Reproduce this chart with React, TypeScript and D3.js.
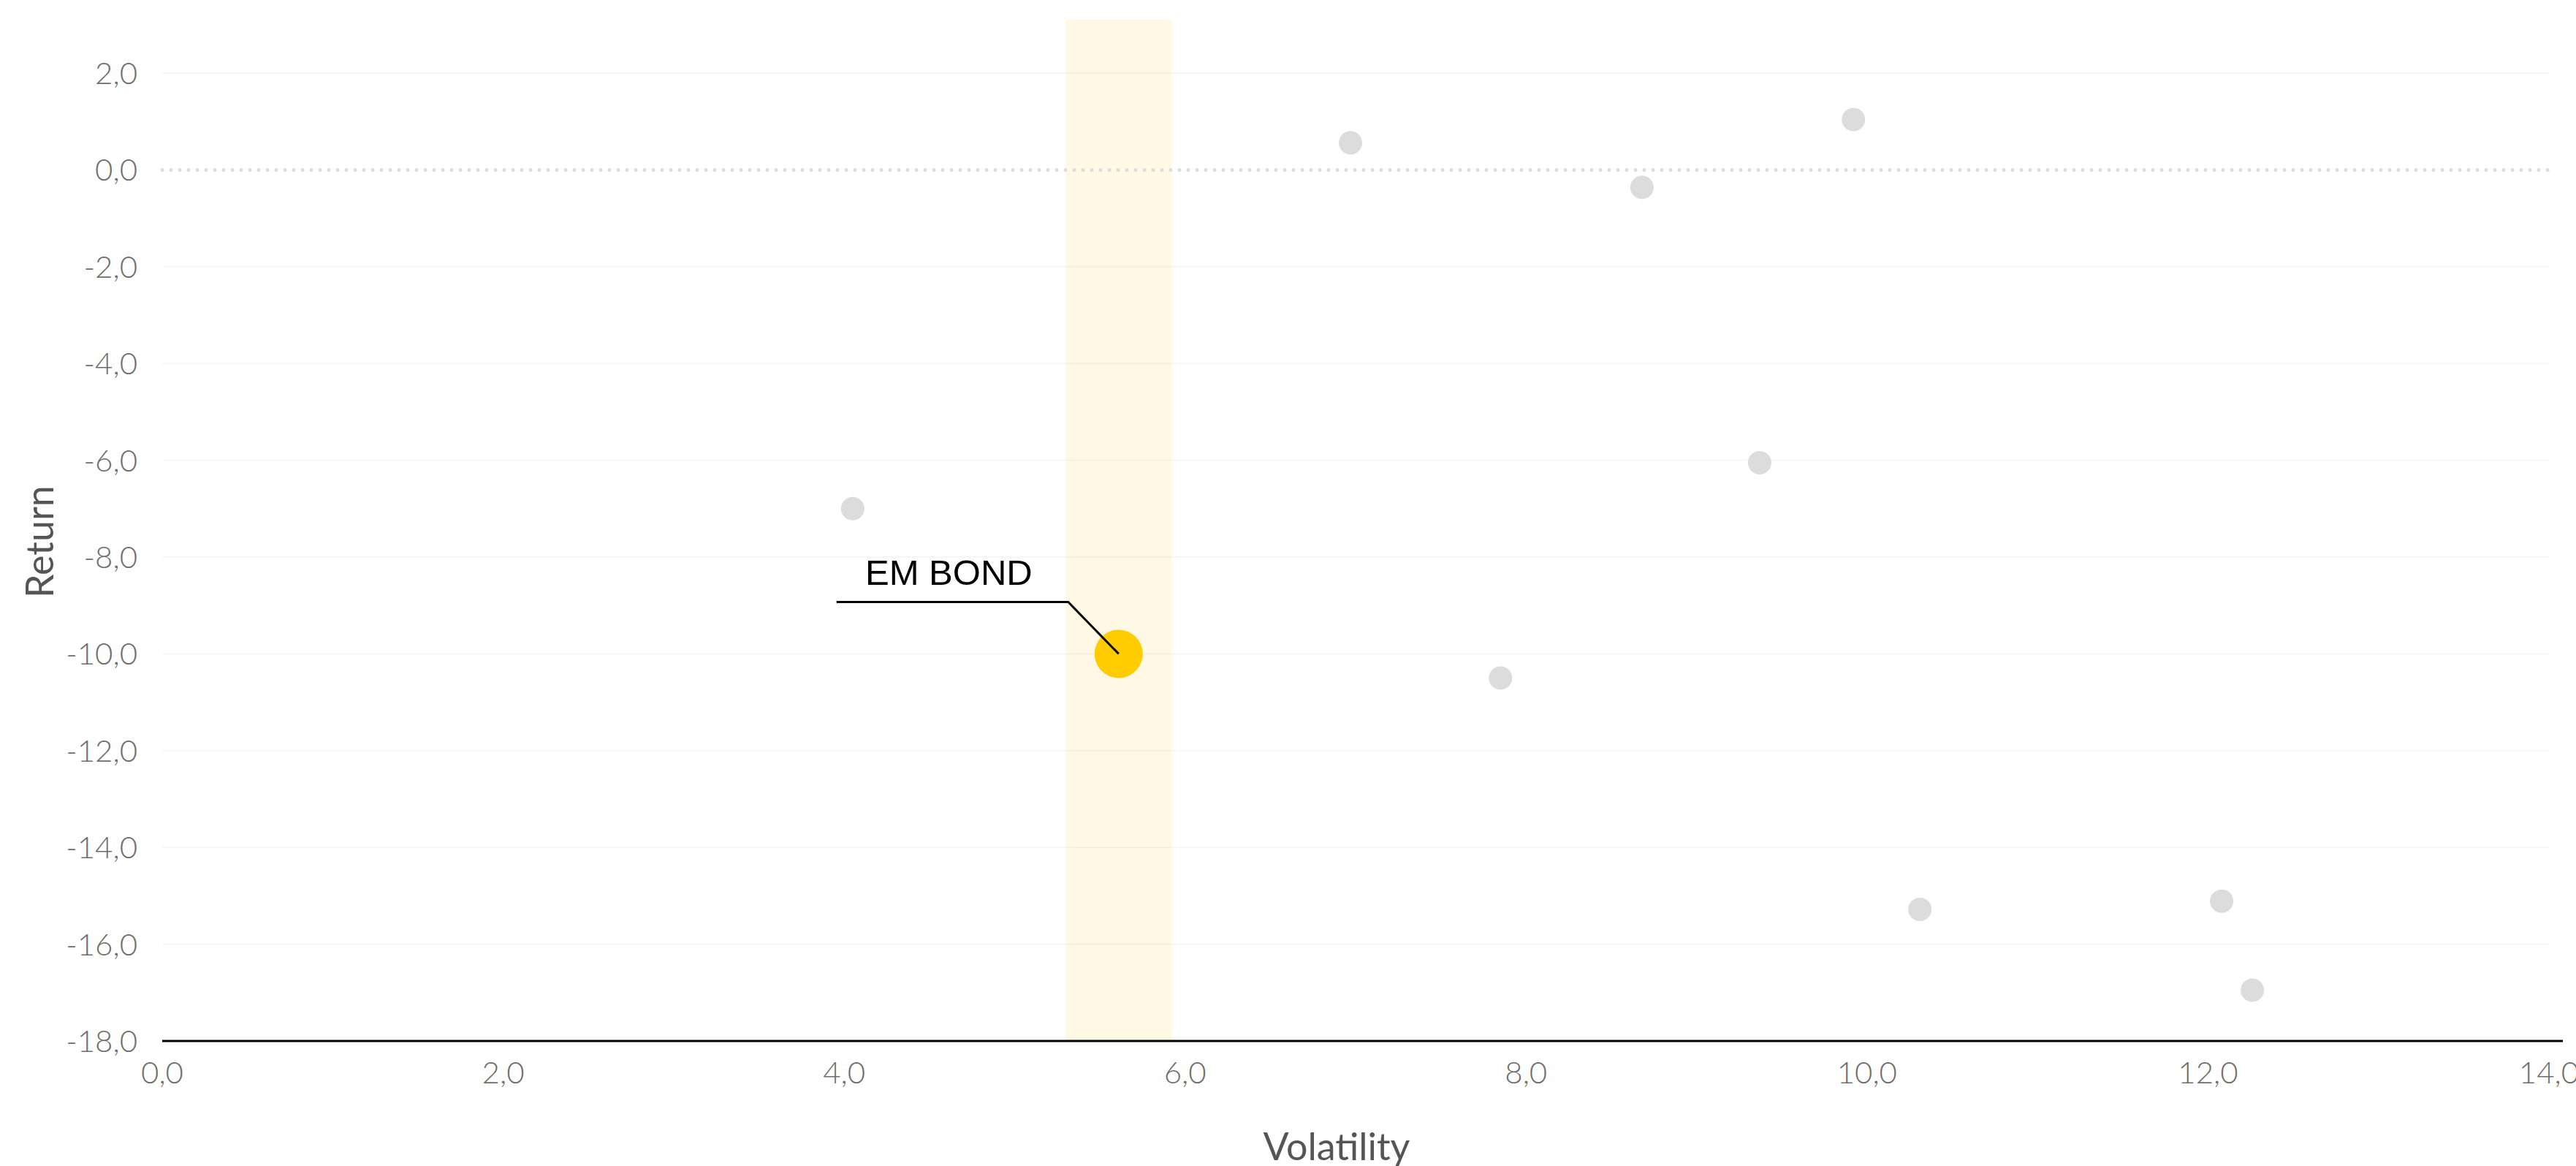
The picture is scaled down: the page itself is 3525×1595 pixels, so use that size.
import React, { useEffect } from "react";
import * as d3 from "d3";

// ---- data ----
const volatility = [4.05, 6.97, 8.68, 9.92, 9.37, 7.85, 10.31, 12.08, 12.26];
const returns = [-7.0, 0.56, -0.36, 1.04, -6.05, -10.5, -15.28, -15.11, -16.95];
const highlightLabel = "EM BOND";
const highlightVol = 5.61;
const highlightRet = -10.0;
const bandRange = [5.3, 5.92];
const xTicks = [0, 2, 4, 6, 8, 10, 12, 14];
const yTicks = [2, 0, -2, -4, -6, -8, -10, -12, -14, -16, -18];
const xTitle = "Volatility";
const yTitle = "Return";

const W = 3525;
const H = 1595;
const fmt = (v: number) => v.toFixed(1).replace(".", ",");

export default function App() {
  useEffect(() => {
    document.body.style.margin = "0";
  }, []);

  const x = d3.scaleLinear().domain([0, 14]).range([222, 3488]);
  const y = d3.scaleLinear().domain([-18, 2]).range([1424, 100]);
  const plotTop = 27;
  const axisRight = 3507;
  const tickFont = "Lato, 'Open Sans', sans-serif";

  const hx = x(highlightVol);
  const hy = y(highlightRet);
  const elbowX = hx - 69;
  const elbowY = hy - 71;
  const leftX = hx - 386;

  return (
    <svg width={W} height={H} style={{ display: "block", background: "#fff" }}>
      {/* highlight band */}
      <rect
        x={x(bandRange[0])}
        y={plotTop}
        width={x(bandRange[1]) - x(bandRange[0])}
        height={y(-18) - plotTop}
        fill="#fff8e4"
      />
      {/* gridlines */}
      {yTicks
        .filter((t) => t !== 0 && t !== -18)
        .map((t) => (
          <line
            key={"g" + t}
            x1={x(0)}
            x2={x(14)}
            y1={y(t)}
            y2={y(t)}
            stroke="#000"
            strokeOpacity={0.035}
            strokeWidth={2}
          />
        ))}
      {/* zero line dotted */}
      <line
        x1={x(0)}
        x2={x(14)}
        y1={y(0)}
        y2={y(0)}
        stroke="#dcdcdc"
        strokeWidth={5}
        strokeLinecap="round"
        strokeDasharray="0 12"
      />
      {/* x axis line */}
      <line x1={x(0)} x2={axisRight} y1={y(-18)} y2={y(-18)} stroke="#000" strokeWidth={3} />
      {/* y tick labels */}
      {yTicks.map((t) => (
        <text
          key={"y" + t}
          x={188}
          y={y(t) + 15}
          textAnchor="end"
          fontFamily={tickFont}
          fontWeight={300}
          fontSize={42}
          fill="#6e6e6e"
        >
          {fmt(t)}
        </text>
      ))}
      {/* x tick labels */}
      {xTicks.map((t) => (
        <text
          key={"x" + t}
          x={x(t)}
          y={1482}
          textAnchor="middle"
          fontFamily={tickFont}
          fontWeight={300}
          fontSize={42}
          fill="#6e6e6e"
        >
          {fmt(t)}
        </text>
      ))}
      {/* axis titles */}
      <text
        x={1829}
        y={1587}
        textAnchor="middle"
        fontFamily={tickFont}
        fontWeight={400}
        fontSize={52}
        fill="#555"
      >
        {xTitle}
      </text>
      <text
        transform={`translate(73,741) rotate(-90)`}
        textAnchor="middle"
        fontFamily={tickFont}
        fontWeight={400}
        fontSize={52}
        fill="#555"
      >
        {yTitle}
      </text>
      {/* gray points */}
      {volatility.map((v, i) => (
        <circle key={"p" + i} cx={x(v)} cy={y(returns[i])} r={16} fill="#dcdcdc" />
      ))}
      {/* highlight point */}
      <circle cx={hx} cy={hy} r={33} fill="#ffcc00" />
      {/* leader */}
      <path
        d={`M${hx},${hy}L${elbowX},${elbowY}L${leftX},${elbowY}`}
        fill="none"
        stroke="#000"
        strokeWidth={3}
      />
      <text
        x={1184}
        y={800}
        fontFamily="'Liberation Sans', Arial, sans-serif"
        fontSize={49}
        fill="#000"
      >
        {highlightLabel}
      </text>
    </svg>
  );
}
